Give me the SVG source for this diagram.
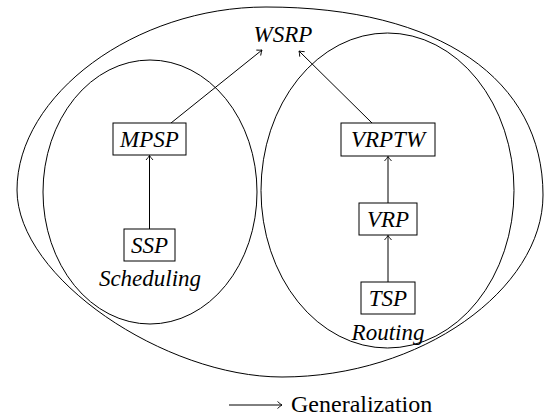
<svg xmlns="http://www.w3.org/2000/svg" width="544" height="416" viewBox="0 0 544 416">
<style>
.reg{fill:none;stroke:#000;stroke-width:1}
.box{fill:#fff;stroke:#000;stroke-width:1}
.lbl{font-family:"Liberation Serif",serif;font-style:italic;font-size:23px;fill:#000;text-anchor:middle}
.leg{font-family:"Liberation Serif",serif;font-size:24px;fill:#000}
.edge{fill:none;stroke:#000;stroke-width:1;marker-end:url(#arr)}
</style>
<defs>
<marker id="arr" markerUnits="userSpaceOnUse" markerWidth="12" markerHeight="12" viewBox="-6 -6 12 12" refX="0" refY="0" orient="auto">
<path d="M -4.5 -3.5 Q -1.5 -0.8 0 0 Q -1.5 0.8 -4.5 3.5" fill="none" stroke="#000" stroke-width="0.9"/>
</marker>
</defs>
<g id="regions">
<path id="outer" class="reg" d="M 266 7 C 440 7 543 80 543 195 C 543 290 420 377 282 377 C 165 377 17 278 17 190 C 17 95 135 7 266 7 Z"/>
<ellipse id="scheduling-region" class="reg" cx="150" cy="192" rx="107" ry="132"/>
<ellipse id="routing-region" class="reg" cx="387.5" cy="190.5" rx="126.5" ry="157.5"/>
</g>
<g id="connectors">
<line class="edge" x1="171" y1="123" x2="262" y2="50"/>
<line class="edge" x1="372" y1="123" x2="299" y2="51"/>
<line class="edge" x1="149.5" y1="229" x2="149.5" y2="155.5"/>
<line class="edge" x1="388" y1="203" x2="388" y2="156.5"/>
<line class="edge" x1="388" y1="282" x2="388" y2="235.5"/>
</g>
<g id="WSRP"><text class="lbl" x="283" y="42">WSRP</text></g>
<g id="MPSP"><rect class="box" x="113" y="123" width="73" height="32"/><text class="lbl" x="149.5" y="147">MPSP</text></g>
<g id="SSP"><rect class="box" x="124" y="229" width="51" height="32"/><text class="lbl" x="149.5" y="253">SSP</text></g>
<g id="VRPTW"><rect class="box" x="341" y="123" width="94" height="33"/><text class="lbl" x="388" y="147">VRPTW</text></g>
<g id="VRP"><rect class="box" x="359" y="203" width="58" height="32"/><text class="lbl" x="388" y="227">VRP</text></g>
<g id="TSP"><rect class="box" x="361" y="282" width="54" height="32"/><text class="lbl" x="388" y="306">TSP</text></g>
<g id="Scheduling"><text class="lbl" x="150" y="286">Scheduling</text></g>
<g id="Routing"><text class="lbl" x="388" y="340">Routing</text></g>
<g id="legend">
<line class="edge" x1="229" y1="405" x2="282" y2="405"/>
<text class="leg" x="291" y="412">Generalization</text>
</g>
</svg>
